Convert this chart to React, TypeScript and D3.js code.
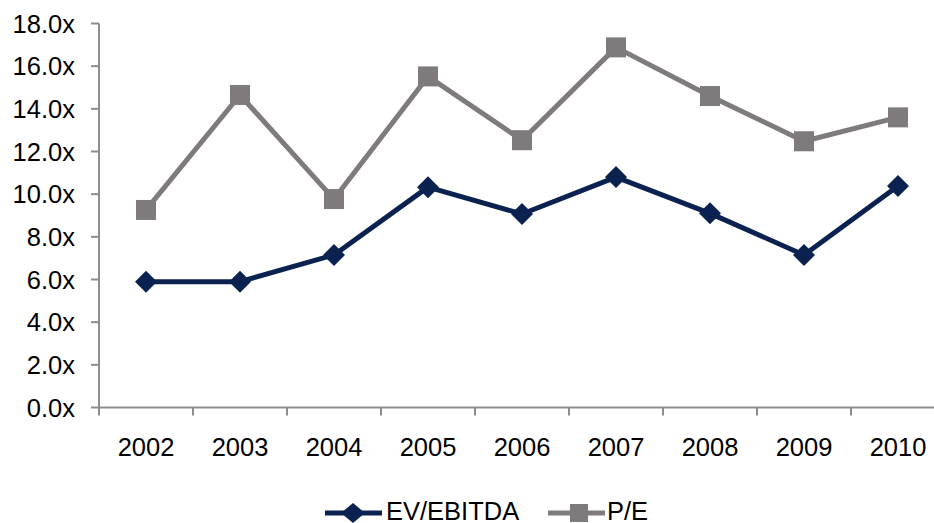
import React from "react";
import * as d3 from "d3";

const years = ["2002", "2003", "2004", "2005", "2006", "2007", "2008", "2009", "2010"];
const evEbitda = [5.9, 5.9, 7.15, 10.33, 9.07, 10.8, 9.1, 7.15, 10.38];
const pe = [9.26, 14.65, 9.77, 15.52, 12.53, 16.88, 14.6, 12.48, 13.6];
const yTicks = [0, 2, 4, 6, 8, 10, 12, 14, 16, 18];

const NAVY = "#0b2250";
const GRAY = "#7f7a7c";
const AXIS = "#8c8c8c";
const FONT = "Liberation Sans, Arial, sans-serif";

export default function App() {
  const W = 934, H = 523;
  const left = 99, top = 23.5, bottom = 407.5;
  const x = d3.scaleBand<string>().domain(years).range([left, left + 94 * years.length]);
  const y = d3.scaleLinear().domain([0, 18]).range([bottom, top]);
  const cx = (d: string) => (x(d) as number) + x.bandwidth() / 2;
  const line = d3.line<number>().x((_, i) => cx(years[i])).y((d) => y(d));
  const diamond = (px: number, py: number, rx: number, ry: number) =>
    `M${px},${py - ry}L${px + rx},${py}L${px},${py + ry}L${px - rx},${py}Z`;

  return (
    <svg width={W} height={H} style={{ position: "absolute", left: 0, top: 0 }} fontFamily={FONT}>
      <rect width={W} height={H} fill="#fff" />
      {/* y axis */}
      <line x1={left} x2={left} y1={top} y2={bottom} stroke={AXIS} strokeWidth={2} />
      {yTicks.map((t) => (
        <g key={t}>
          <line x1={left - 8} x2={left} y1={y(t)} y2={y(t)} stroke={AXIS} strokeWidth={2} />
          <text x={left - 24} y={y(t)} dy="0.36em" textAnchor="end" fontSize={25.5} fill="#000">
            {t.toFixed(1) + "x"}
          </text>
        </g>
      ))}
      {/* x axis */}
      <line x1={left} x2={W} y1={bottom} y2={bottom} stroke={AXIS} strokeWidth={2} />
      {years.map((yr) => (
        <g key={yr}>
          <line x1={x(yr) as number} x2={x(yr) as number} y1={bottom} y2={bottom + 8} stroke={AXIS} strokeWidth={2} />
          <text x={cx(yr)} y={456} textAnchor="middle" fontSize={25.5} fill="#000">
            {yr}
          </text>
        </g>
      ))}
      {/* P/E */}
      <path d={line(pe) || ""} fill="none" stroke={GRAY} strokeWidth={5} strokeLinejoin="round" />
      {pe.map((v, i) => (
        <rect key={i} x={cx(years[i]) - 10} y={y(v) - 10} width={20} height={20} fill={GRAY} />
      ))}
      {/* EV/EBITDA */}
      <path d={line(evEbitda) || ""} fill="none" stroke={NAVY} strokeWidth={5} strokeLinejoin="round" />
      {evEbitda.map((v, i) => (
        <path key={i} d={diamond(cx(years[i]), y(v), 11, 11)} fill={NAVY} />
      ))}
      {/* legend */}
      <g>
        <line x1={325} x2={382} y1={513} y2={513} stroke={NAVY} strokeWidth={5} />
        <path d={diamond(353, 513, 12, 10)} fill={NAVY} />
        <text x={386} y={520} fontSize={25.5} fill="#000">EV/EBITDA</text>
        <line x1={548} x2={605} y1={513} y2={513} stroke={GRAY} strokeWidth={5} />
        <rect x={570} y={504} width={18} height={18} fill={GRAY} />
        <text x={607} y={520} fontSize={25.5} fill="#000">P/E</text>
      </g>
    </svg>
  );
}
